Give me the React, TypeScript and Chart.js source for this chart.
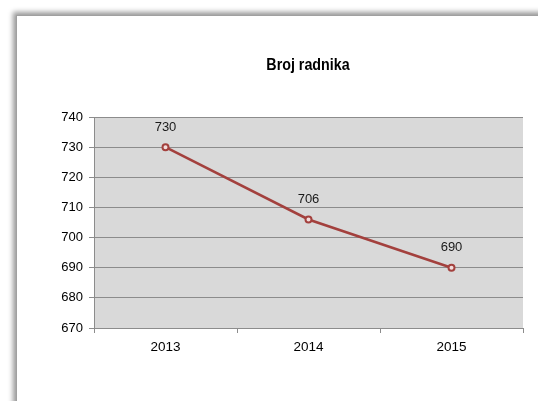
import React, { useEffect, useRef } from "react";
import { Chart, registerables } from "chart.js";

Chart.register(...registerables);

const categories = ["2013", "2014", "2015"];
const workers = [730, 706, 690];
const yTicks = [670, 680, 690, 700, 710, 720, 730, 740];
const titleText = "Broj radnika";

const bgPlugin = {
  id: "plotBg",
  beforeDraw(chart: any) {
    const { ctx, chartArea } = chart;
    ctx.save();
    ctx.fillStyle = "#d9d9d9";
    ctx.fillRect(chartArea.left, chartArea.top, chartArea.right - chartArea.left, chartArea.bottom - chartArea.top);
    ctx.restore();
  },
};

const titlePlugin = {
  id: "customTitle",
  afterDraw(chart: any) {
    const { ctx } = chart;
    ctx.save();
    ctx.font = "bold 17px 'Liberation Sans', Arial, sans-serif";
    ctx.fillStyle = "#000";
    ctx.textAlign = "center";
    ctx.textBaseline = "middle";
    ctx.translate(308, 65);
    ctx.scale(0.84, 1);
    ctx.fillText(titleText, 0, 0);
    ctx.restore();
  },
};

const labelPlugin = {
  id: "valueLabels",
  afterDatasetsDraw(chart: any) {
    const { ctx } = chart;
    const meta = chart.getDatasetMeta(0);
    ctx.save();
    ctx.font = "13px 'Liberation Sans', Arial, sans-serif";
    ctx.fillStyle = "#1a1a1a";
    ctx.textAlign = "center";
    ctx.textBaseline = "middle";
    meta.data.forEach((pt: any, i: number) => {
      ctx.fillText(String(chart.data.datasets[0].data[i]), pt.x, pt.y - 20);
    });
    ctx.restore();
  },
};

export default function App() {
  const ref = useRef<HTMLCanvasElement>(null);
  useEffect(() => {
    if (!ref.current) return;
    const chart = new Chart(ref.current, {
      type: "line",
      data: {
        labels: categories,
        datasets: [
          {
            data: workers,
            borderColor: "#a3403d",
            borderWidth: 2.5,
            pointRadius: 3,
            pointBorderWidth: 2,
            pointBackgroundColor: "#f2dcdb",
            pointBorderColor: "#a3403d",
            tension: 0,
          },
        ],
      },
      options: {
        responsive: false,
        animation: false,
        layout: { padding: { top: 117, right: 15, bottom: 0, left: 0 } },
        plugins: {
          legend: { display: false },
          tooltip: { enabled: false },
          title: { display: false },
        },
        scales: {
          x: {
            offset: true,
            grid: {
              offset: true,
              drawOnChartArea: false,
              color: "#8c8c8c",
              tickLength: 5,
            },
            border: { color: "#8c8c8c" },
            ticks: {
              color: "#000",
              font: { family: "'Liberation Sans', Arial, sans-serif", size: 13.5 },
              padding: 6,
              maxRotation: 0,
            },
            afterFit(scale: any) {
              scale.height = 73;
            },
          },
          y: {
            min: 670,
            max: 740,
            afterBuildTicks(scale: any) {
              scale.ticks = yTicks.map((v) => ({ value: v }));
            },
            grid: {
              color: "#8c8c8c",
              tickLength: 5,
            },
            border: { color: "#8c8c8c" },
            ticks: {
              color: "#000",
              font: { family: "'Liberation Sans', Arial, sans-serif", size: 13 },
              padding: 6,
            },
            afterFit(scale: any) {
              scale.width = 94;
            },
          },
        },
      },
      plugins: [bgPlugin, labelPlugin, titlePlugin],
    });
    return () => chart.destroy();
  }, []);

  return (
    <div style={{ position: "fixed", left: 0, top: 0, width: 538, height: 401, overflow: "hidden", background: "#fff" }}>
      <div
        style={{
          position: "absolute",
          left: 16,
          top: 15,
          width: 600,
          height: 450,
          background: "#fff",
          borderLeft: "1px solid #a0a0a0",
          borderTop: "1px solid #a0a0a0",
          boxShadow: "-2px -2px 5px 1px rgba(0,0,0,0.4)",
        }}
      />
      <canvas ref={ref} width={538} height={401} style={{ position: "absolute", left: 0, top: 0 }} />
    </div>
  );
}
